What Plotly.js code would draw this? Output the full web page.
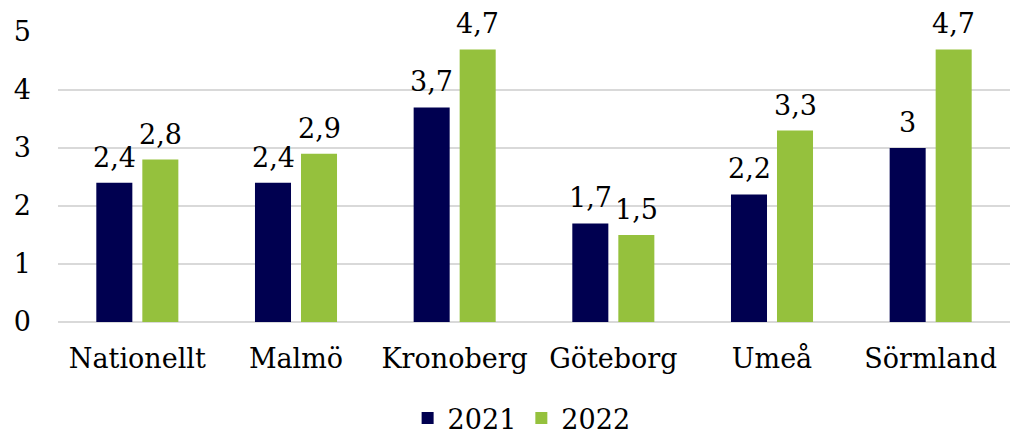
<!DOCTYPE html>
<html>
<head>
<meta charset="utf-8">
<script src="https://cdn.plot.ly/plotly-3.0.1.min.js"></script>
<style>html,body{margin:0;padding:0;background:#fff;}#chart{width:1013px;height:433px;}</style>
</head>
<body>
<div id="chart"></div>
<script>
const categories = ["Nationellt", "Malmö", "Kronoberg", "Göteborg", "Umeå", "Sörmland"];
const values2021 = [2.4, 2.4, 3.7, 1.7, 2.2, 3];
const values2022 = [2.8, 2.9, 4.7, 1.5, 3.3, 4.7];
const seriesNames = ["2021", "2022"];
const seriesColors = ["#000050", "#95c13d"];
const yTicks = [0, 1, 2, 3, 4, 5];

const font = "DejaVu Serif, Liberation Serif, serif";
const fs = 27;
const series = [values2021, values2022];
const traces = series.map((vals, i) => ({
  type: "bar", name: seriesNames[i], x: categories, y: vals,
  marker: {color: seriesColors[i]}, hoverinfo: "skip"
}));
const fmt = v => String(v).replace(".", ",");
const annotations = [];
series.forEach((vals, i) => {
  vals.forEach((v, j) => {
    annotations.push({
      x: categories[j], y: v, xref: "x", yref: "y",
      text: fmt(v), showarrow: false, yanchor: "bottom",
      xshift: i === 0 ? -23 : 23, yshift: 8,
      font: {family: font, size: fs, color: "#000"}
    });
  });
});
const layout = {
  width: 1013, height: 433,
  margin: {l: 58, r: 3, t: 32, b: 111, autoexpand: false},
  separators: ",.",
  font: {family: font, size: fs, color: "#000"},
  barmode: "group", bargap: 0.42, bargroupgap: 0.217,
  paper_bgcolor: "#fff", plot_bgcolor: "#fff",
  annotations: annotations,
  xaxis: {tickfont: {family: font, size: fs}, showgrid: false, showline: false, ticks: "", ticklabelstandoff: 18, automargin: false},
  yaxis: {range: [0, 5], tickvals: yTicks, ticktext: yTicks.map(String), showgrid: true, gridcolor: "#d9d9d9", gridwidth: 1.5,
          zeroline: true, zerolinecolor: "#d9d9d9", zerolinewidth: 1.5, ticks: "", ticklabelstandoff: 26,
          tickfont: {family: font, size: fs}, showline: false, automargin: false},
  showlegend: true,
  legend: {orientation: "h", x: 0.487, xanchor: "center", y: -0.248, yanchor: "top", font: {family: font, size: fs}}
};
Plotly.newPlot("chart", traces, layout, {displayModeBar: false, staticPlot: true});
</script>
</body>
</html>
